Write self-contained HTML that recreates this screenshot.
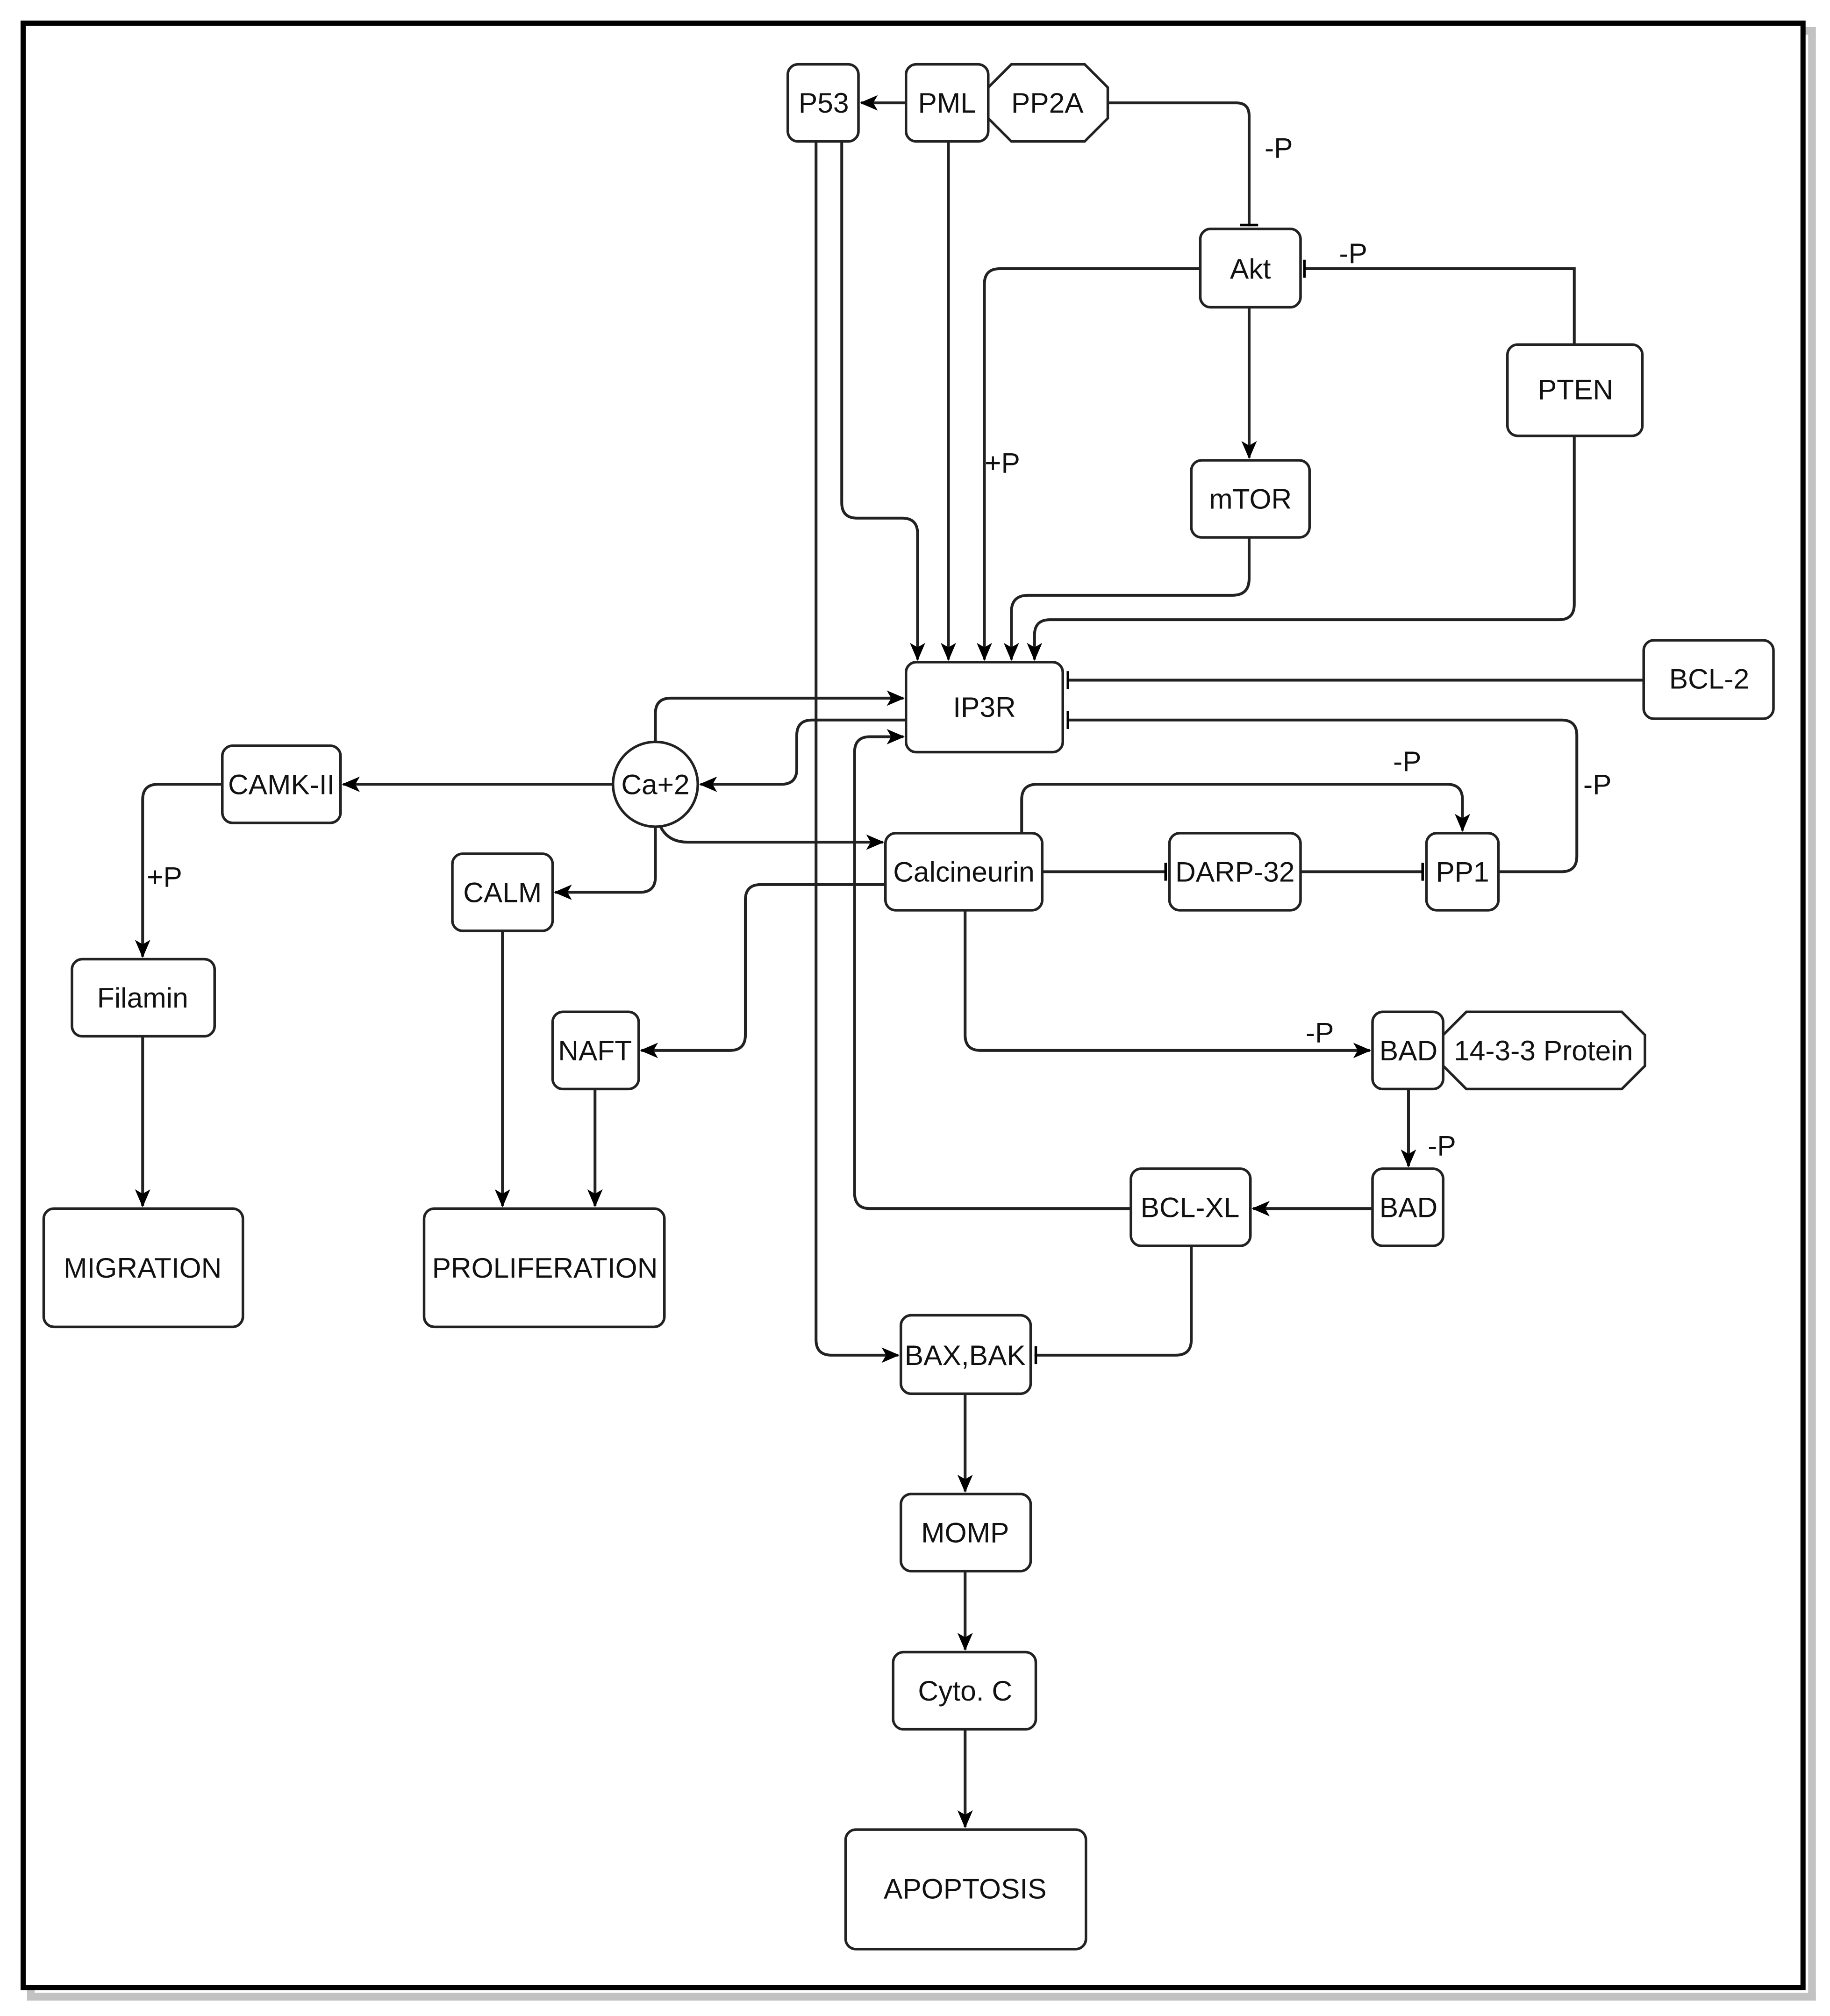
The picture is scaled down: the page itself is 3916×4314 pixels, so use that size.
<!DOCTYPE html>
<html><head><meta charset="utf-8"><style>html,body{margin:0;padding:0;background:#fff}svg{display:block}</style></head>
<body>
<svg width="3916" height="4314" viewBox="0 0 1424 1568" preserveAspectRatio="none" xmlns="http://www.w3.org/2000/svg" font-family="Liberation Sans, Arial, sans-serif">
<defs>
<marker id="a" viewBox="0 0 14 14" refX="13" refY="7" markerWidth="14" markerHeight="14" markerUnits="userSpaceOnUse" orient="auto">
<path d="M0,1 L14,7 L0,13 L3.5,7 Z" fill="#000"/></marker>
<marker id="t" viewBox="0 0 6 16" refX="4" refY="8" markerWidth="6" markerHeight="16" markerUnits="userSpaceOnUse" orient="auto">
<path d="M3,1 L3,15" stroke="#000" stroke-width="2"/></marker>
</defs>
<rect x="0" y="0" width="1424" height="1568" fill="#fff"/>
<rect x="24" y="24" width="1386" height="1529" fill="none" stroke="#999" stroke-width="6" opacity="0.6"/>
<rect x="18" y="18" width="1385" height="1528" fill="#fff" stroke="#000" stroke-width="4"/>

<g fill="#fff" stroke="#222" stroke-width="2">
<rect x="613" y="50" width="55" height="60" rx="8"/>
<rect x="705" y="50" width="64" height="60" rx="8"/>
<path d="M787,50 H844 L862,68 V92 L844,110 H787 L769,92 V68 Z"/>
<rect x="934" y="178" width="78" height="61" rx="8"/>
<rect x="1173" y="268" width="105" height="71" rx="8"/>
<rect x="927" y="358" width="92" height="60" rx="8"/>
<rect x="705" y="515" width="122" height="70" rx="8"/>
<rect x="1279" y="498" width="101" height="61" rx="8"/>
<circle cx="510" cy="610" r="33"/>
<rect x="173" y="580" width="92" height="60" rx="8"/>
<rect x="352" y="664" width="78" height="60" rx="8"/>
<rect x="689" y="648" width="122" height="60" rx="8"/>
<rect x="910" y="648" width="102" height="60" rx="8"/>
<rect x="1110" y="648" width="56" height="60" rx="8"/>
<rect x="56" y="746" width="111" height="60" rx="8"/>
<rect x="430" y="787" width="67" height="60" rx="8"/>
<rect x="1068" y="787" width="55" height="60" rx="8"/>
<path d="M1141,787 H1262 L1280,805 V829 L1262,847 H1141 L1123,829 V805 Z"/>
<rect x="1068" y="909" width="55" height="60" rx="8"/>
<rect x="880" y="909" width="93" height="60" rx="8"/>
<rect x="34" y="940" width="155" height="92" rx="8"/>
<rect x="330" y="940" width="187" height="92" rx="8"/>
<rect x="701" y="1023" width="101" height="61" rx="8"/>
<rect x="701" y="1162" width="101" height="60" rx="8"/>
<rect x="695" y="1285" width="111" height="60" rx="8"/>
<rect x="658" y="1423" width="187" height="93" rx="8"/>
</g>

<g fill="none" stroke="#222" stroke-width="2.2">
<path d="M705,80 H670" marker-end="url(#a)"/>
<path d="M862,80 H962 Q972,80 972,90 V176" marker-end="url(#t)"/>
<path d="M1225,268 V209 H1014" marker-end="url(#t)"/>
<path d="M934,209 H778 Q766,209 766,221 V513" marker-end="url(#a)"/>
<path d="M972,239 V356" marker-end="url(#a)"/>
<path d="M972,418 V450 Q972,463 959,463 H800 Q787,463 787,476 V513" marker-end="url(#a)"/>
<path d="M1225,339 V470 Q1225,482 1213,482 H817 Q805,482 805,494 V513" marker-end="url(#a)"/>
<path d="M655,110 V391 Q655,403 667,403 H702 Q714,403 714,415 V513" marker-end="url(#a)"/>
<path d="M635,110 V1042 Q635,1054 647,1054 H699" marker-end="url(#a)"/>
<path d="M738,110 V513" marker-end="url(#a)"/>
<path d="M1279,529 H830" marker-end="url(#t)"/>
<path d="M1166,678 H1215 Q1227,678 1227,666 V572 Q1227,560 1215,560 H830" marker-end="url(#t)"/>
<path d="M510,577 V555 Q510,543 522,543 H703" marker-end="url(#a)"/>
<path d="M705,560 H632 Q620,560 620,572 V598 Q620,610 608,610 H545" marker-end="url(#a)"/>
<path d="M477,610 H267" marker-end="url(#a)"/>
<path d="M173,610 H123 Q111,610 111,622 V744" marker-end="url(#a)"/>
<path d="M514,643 Q520,655 535,655 H687" marker-end="url(#a)"/>
<path d="M510,643 V682 Q510,694 498,694 H432" marker-end="url(#a)"/>
<path d="M689,688 H592 Q580,688 580,700 V805 Q580,817 568,817 H499" marker-end="url(#a)"/>
<path d="M795,648 V622 Q795,610 807,610 H1126 Q1138,610 1138,622 V646" marker-end="url(#a)"/>
<path d="M811,678 H908" marker-end="url(#t)"/>
<path d="M1012,678 H1108" marker-end="url(#t)"/>
<path d="M751,708 V805 Q751,817 763,817 H1066" marker-end="url(#a)"/>
<path d="M1096,847 V907" marker-end="url(#a)"/>
<path d="M1068,940 H975" marker-end="url(#a)"/>
<path d="M880,940 H677 Q665,940 665,928 V585 Q665,573 677,573 H703" marker-end="url(#a)"/>
<path d="M927,969 V1042 Q927,1054 915,1054 H805" marker-end="url(#t)"/>
<path d="M391,724 V938" marker-end="url(#a)"/>
<path d="M463,847 V938" marker-end="url(#a)"/>
<path d="M111,806 V938" marker-end="url(#a)"/>
<path d="M751,1084 V1160" marker-end="url(#a)"/>
<path d="M751,1222 V1283" marker-end="url(#a)"/>
<path d="M751,1345 V1421" marker-end="url(#a)"/>
</g>

<g font-size="22" fill="#111" text-anchor="middle" dominant-baseline="central">
<text x="641" y="80">P53</text>
<text x="737" y="80">PML</text>
<text x="815" y="80">PP2A</text>
<text x="973" y="209">Akt</text>
<text x="1226" y="303">PTEN</text>
<text x="973" y="388">mTOR</text>
<text x="766" y="550">IP3R</text>
<text x="1330" y="528">BCL-2</text>
<text x="510" y="610">Ca+2</text>
<text x="219" y="610">CAMK-II</text>
<text x="391" y="694">CALM</text>
<text x="750" y="678">Calcineurin</text>
<text x="961" y="678">DARP-32</text>
<text x="1138" y="678">PP1</text>
<text x="111" y="776">Filamin</text>
<text x="463" y="817">NAFT</text>
<text x="1096" y="817">BAD</text>
<text x="1201" y="817">14-3-3 Protein</text>
<text x="1096" y="939">BAD</text>
<text x="926" y="939">BCL-XL</text>
<text x="111" y="986">MIGRATION</text>
<text x="424" y="986">PROLIFERATION</text>
<text x="751" y="1054">BAX,BAK</text>
<text x="751" y="1192">MOMP</text>
<text x="751" y="1315">Cyto. C</text>
<text x="751" y="1469">APOPTOSIS</text>
<text x="995" y="115">-P</text>
<text x="1053" y="197">-P</text>
<text x="780" y="360">+P</text>
<text x="1243" y="610">-P</text>
<text x="1095" y="592">-P</text>
<text x="128" y="682">+P</text>
<text x="1027" y="803">-P</text>
<text x="1122" y="891">-P</text>
</g>
</svg>
</body></html>
